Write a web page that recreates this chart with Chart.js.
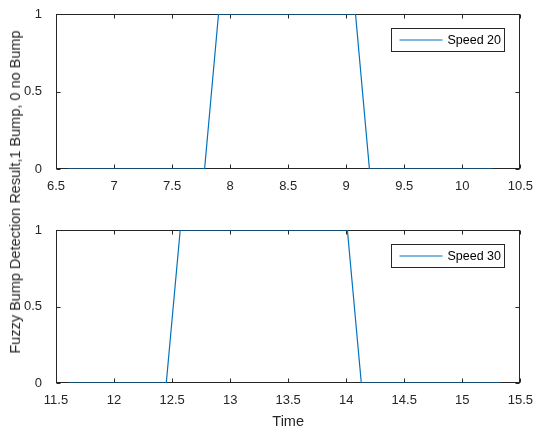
<!DOCTYPE html>
<html lang="en">
<head>
    <meta charset="UTF-8">
    <title>Fuzzy Bump Detection</title>
    <script src="https://cdn.jsdelivr.net/npm/chart.js"></script>
    <style>
        body { margin: 0; background: #fff; }
        .wrap { position: relative; width: 535px; height: 431px; }
        .panel { position: absolute; left: 0; width: 535px; }
        #top { top: 0; height: 200px; }
        #bottom { top: 200px; height: 231px; }
        .ylabel {
            position: absolute;
            left: 15px;
            top: 192px;
            transform: translate(-50%, -50%) rotate(-90deg);
            white-space: nowrap;
            font: 14.5px "Liberation Sans", Arial, sans-serif;
            color: #262626;
        }
    </style>
</head>
<body>
    <div class="wrap">
        <div class="panel" id="top"><canvas id="chart20"></canvas></div>
        <div class="panel" id="bottom"><canvas id="chart30"></canvas></div>
        <div class="ylabel">Fuzzy Bump Detection Result,1 Bump, 0 no Bump</div>
    </div>

    <script>
        // values
        const speed20Time = [6.6, 7.78, 7.9, 9.08, 9.2, 10.26];
        const speed20Result = [0, 0, 1, 1, 0, 0];
        const speed30Time = [11.61, 12.45, 12.57, 14.01, 14.13, 15.33];
        const speed30Result = [0, 0, 1, 1, 0, 0];

        const xTicks20 = [6.5, 7, 7.5, 8, 8.5, 9, 9.5, 10, 10.5];
        const xTicks30 = [11.5, 12, 12.5, 13, 13.5, 14, 14.5, 15, 15.5];
        const yTicks = [0, 0.5, 1];

        const axisColor = '#262626';
        const lineColor = '#0072BD';
        const fontFamily = '"Liberation Sans", Arial, sans-serif';

        // matlab style box with inward ticks on all four sides
        const boxPlugin = {
            id: 'box',
            beforeDatasetsDraw(chart) {
                const ctx = chart.ctx;
                const a = chart.chartArea;
                const xs = chart.scales.x;
                const ys = chart.scales.y;
                const len = 4;
                const l = Math.round(a.left) + 0.5, r = Math.round(a.right) - 0.5;
                const t = Math.round(a.top) + 0.5, b = Math.round(a.bottom) - 0.5;
                ctx.save();
                ctx.strokeStyle = axisColor;
                ctx.lineWidth = 1;
                ctx.strokeRect(l, t, r - l, b - t);
                ctx.beginPath();
                xs.ticks.forEach(tk => {
                    const px = Math.round(xs.getPixelForValue(tk.value)) + 0.5;
                    ctx.moveTo(px, b); ctx.lineTo(px, b - len);
                    ctx.moveTo(px, t); ctx.lineTo(px, t + len);
                });
                ys.ticks.forEach(tk => {
                    const py = Math.round(ys.getPixelForValue(tk.value)) + 0.5;
                    ctx.moveTo(l, py); ctx.lineTo(l + len, py);
                    ctx.moveTo(r, py); ctx.lineTo(r - len, py);
                });
                ctx.stroke();
                ctx.restore();
            }
        };

        // boxed legend in the upper right of the axes
        const legendPlugin = {
            id: 'boxLegend',
            afterDraw(chart) {
                const ctx = chart.ctx;
                const a = chart.chartArea;
                const ds = chart.data.datasets[0];
                const w = 113, h = 23;
                const x0 = Math.round(a.right - 16.5 - w) + 0.5;
                const y0 = Math.round(a.top + 14) + 0.5;
                ctx.save();
                ctx.fillStyle = '#fff';
                ctx.fillRect(x0, y0, w, h);
                ctx.strokeStyle = axisColor;
                ctx.lineWidth = 1;
                ctx.strokeRect(x0, y0, w, h);
                ctx.strokeStyle = ds.borderColor;
                ctx.lineWidth = 1.2;
                ctx.beginPath();
                ctx.moveTo(x0 + 8, y0 + h / 2);
                ctx.lineTo(x0 + 51, y0 + h / 2);
                ctx.stroke();
                ctx.fillStyle = '#000';
                ctx.font = '12.5px ' + fontFamily;
                ctx.textBaseline = 'middle';
                ctx.fillText(ds.label, x0 + 56, y0 + h / 2 + 0.5);
                ctx.restore();
            }
        };

        function makeChart(id, label, times, values, xTicks, padTop, xHeight, showTitle) {
            const points = times.map((t, i) => ({ x: t, y: values[i] }));
            return new Chart(document.getElementById(id), {
                type: 'line',
                data: {
                    datasets: [{
                        label: label,
                        data: points,
                        borderColor: lineColor,
                        borderWidth: 1.2,
                        pointRadius: 0,
                        tension: 0
                    }]
                },
                options: {
                    responsive: true,
                    maintainAspectRatio: false,
                    animation: false,
                    layout: { padding: { top: padTop, right: 14, left: 0, bottom: 0 } },
                    plugins: {
                        legend: { display: false },
                        tooltip: { enabled: false }
                    },
                    scales: {
                        x: {
                            type: 'linear',
                            min: xTicks[0],
                            max: xTicks[xTicks.length - 1],
                            grid: { display: false },
                            border: { display: false },
                            afterBuildTicks: s => { s.ticks = xTicks.map(v => ({ value: v })); },
                            afterFit: s => { s.height = xHeight; },
                            ticks: {
                                padding: 2,
                                maxRotation: 0,
                                autoSkip: false,
                                color: axisColor,
                                font: { family: fontFamily, size: 13 },
                                callback: v => String(v)
                            },
                            title: {
                                display: showTitle,
                                text: 'Time',
                                color: axisColor,
                                padding: { top: 0, bottom: 0.5 },
                                font: { family: fontFamily, size: 14.5 }
                            }
                        },
                        y: {
                            min: 0,
                            max: 1,
                            grid: { display: false },
                            border: { display: false },
                            afterBuildTicks: s => { s.ticks = yTicks.map(v => ({ value: v })); },
                            afterFit: s => { s.width = 56; },
                            ticks: {
                                padding: 6,
                                color: axisColor,
                                font: { family: fontFamily, size: 13 },
                                callback: v => String(v)
                            }
                        }
                    }
                },
                plugins: [boxPlugin, legendPlugin]
            });
        }

        makeChart('chart20', 'Speed 20', speed20Time, speed20Result, xTicks20, 14, 31, false);
        makeChart('chart30', 'Speed 30', speed30Time, speed30Result, xTicks30, 30, 48, true);
    </script>
</body>
</html>
